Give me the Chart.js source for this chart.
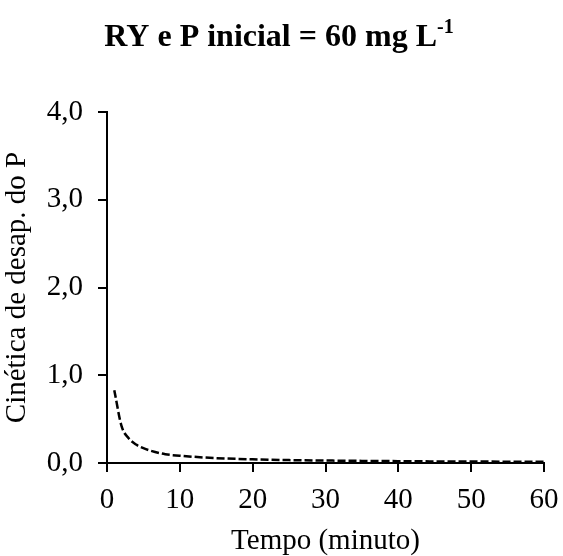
<!DOCTYPE html>
<html>
<head>
<meta charset="utf-8">
<script src="https://cdn.jsdelivr.net/npm/chart.js@4"></script>
<style>
  html, body { margin: 0; padding: 0; background: #fff; }
  #wrap { width: 563px; height: 556px; }
</style>
</head>
<body>
<div id="wrap"><canvas id="kin" width="563" height="556"></canvas></div>
<script>
// tempo (minuto) e cinética
const tempo = [1, 2, 3, 4, 5, 6, 8, 10, 12, 15, 20, 25, 30, 35, 40, 45, 50, 55, 60];
const cinetica = [0.83, 0.42, 0.28, 0.21, 0.17, 0.14, 0.10, 0.083, 0.07, 0.055, 0.042, 0.033, 0.028, 0.024, 0.021, 0.018, 0.017, 0.015, 0.014];
const xTicks = [0, 10, 20, 30, 40, 50, 60];
const yTicks = [0, 1, 2, 3, 4];

const serif = '"Liberation Serif", "Times New Roman", serif';

// title with superscript
const titlePlugin = {
  id: 'titleSup',
  afterDraw(chart){
    const ctx = chart.ctx;
    const main = 'RY e P inicial = 60 mg L';
    const sup = '-1';
    ctx.save();
    ctx.fillStyle = '#000';
    ctx.textBaseline = 'alphabetic';
    ctx.font = 'bold 32px ' + serif;
    const w1 = ctx.measureText(main).width;
    ctx.font = 'bold 20px ' + serif;
    const w2 = ctx.measureText(sup).width;
    const x0 = 279 - (w1 + w2) / 2;
    ctx.font = 'bold 32px ' + serif;
    ctx.fillText(main, x0, 46);
    ctx.font = 'bold 20px ' + serif;
    ctx.fillText(sup, x0 + w1, 33);
    ctx.restore();
  }
};

new Chart(document.getElementById('kin'), {
  type: 'line',
  data: {
    datasets: [{
      data: tempo.map((t, i) => ({ x: t, y: cinetica[i] })),
      borderColor: '#000',
      borderWidth: 2.5,
      borderDash: [8, 3],
      pointRadius: 0,
      fill: false,
      cubicInterpolationMode: 'monotone'
    }]
  },
  options: {
    responsive: false,
    animation: false,
    layout: { padding: { top: 112, right: 19, left: 0, bottom: 0 } },
    plugins: { legend: { display: false }, tooltip: { enabled: false }, title: { display: false } },
    scales: {
      x: {
        type: 'linear', min: 0, max: 60,
        afterBuildTicks: s => { s.ticks = xTicks.map(v => ({ value: v })); },
        afterFit: s => { s.height = 93; },
        border: { color: '#000', width: 2 },
        grid: { drawOnChartArea: false, color: '#000', lineWidth: 2, tickLength: 9 },
        ticks: { color: '#000', font: { family: serif, size: 29, lineHeight: 1.65 }, padding: 4, maxRotation: 0 },
        title: { display: true, text: 'Tempo (minuto)', color: '#000', font: { family: serif, size: 29 }, padding: { top: 0, bottom: -2.5 } }
      },
      y: {
        min: 0, max: 4,
        afterBuildTicks: s => { s.ticks = yTicks.map(v => ({ value: v })); },
        afterFit: s => { s.width = 107; },
        border: { color: '#000', width: 2 },
        grid: { drawOnChartArea: false, color: '#000', lineWidth: 2, tickLength: 9 },
        ticks: { color: '#000', font: { family: serif, size: 29 }, padding: 15, callback: v => v.toFixed(1).replace('.', ',') },
        title: { display: true, text: 'Cinética de desap. do P', color: '#000', font: { family: serif, size: 29 }, padding: { top: 0, bottom: 0 } }
      }
    }
  },
  plugins: [titlePlugin]
});
</script>
</body>
</html>
